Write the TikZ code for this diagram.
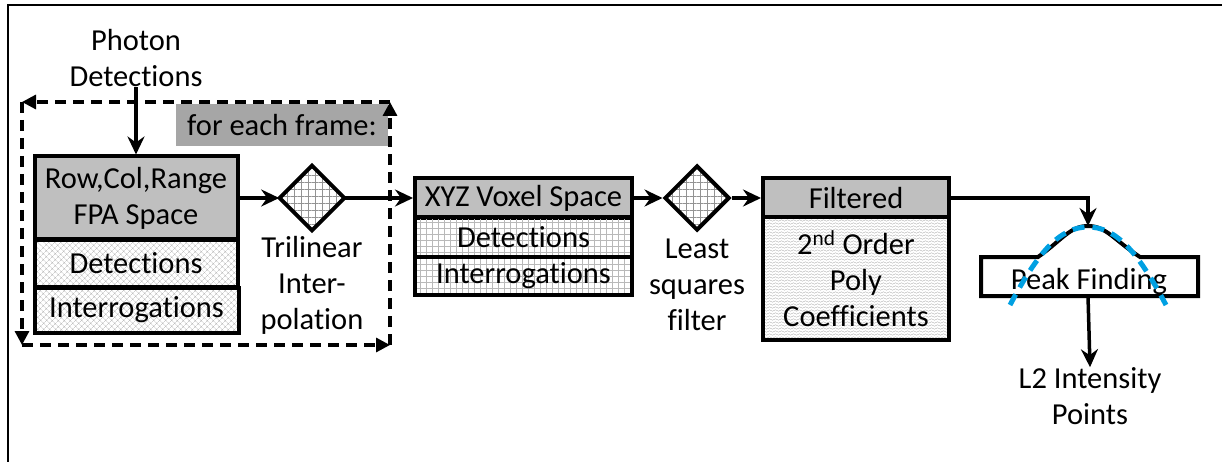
\documentclass[tikz,border=0pt]{standalone}
\usepackage{fontspec}
\setmainfont{Carlito}[Ligatures=NoCommon]
\usetikzlibrary{arrows.meta,shapes.geometric,patterns,patterns.meta}
\definecolor{hdrgray}{RGB}{191,191,191}
\definecolor{loopgray}{RGB}{166,166,166}
\definecolor{peakblue}{RGB}{0,160,226}
\pgfdeclarepatternformonly{wavy}{\pgfqpoint{-1pt}{-1pt}}{\pgfqpoint{7pt}{4pt}}{\pgfqpoint{6pt}{3pt}}{%
  \pgfsetlinewidth{0.4pt}
  \pgfpathmoveto{\pgfqpoint{0pt}{1.5pt}}
  \pgfpathcurveto{\pgfqpoint{1pt}{2.5pt}}{\pgfqpoint{2pt}{2.5pt}}{\pgfqpoint{3pt}{1.5pt}}
  \pgfpathcurveto{\pgfqpoint{4pt}{0.5pt}}{\pgfqpoint{5pt}{0.5pt}}{\pgfqpoint{6pt}{1.5pt}}
  \pgfusepathqstroke}
\begin{document}
\begin{tikzpicture}[x=1pt,y=-1pt,
    font=\fontsize{30.5}{36}\selectfont,
    box/.style={draw,line width=4pt,inner sep=0pt,align=center},
    hdr/.style={box,fill=hdrgray},
    xhatch/.style={box,pattern={Hatch[angle=45,distance=4pt,line width=0.35pt]},pattern color=gray!60},
    gridbox/.style={box,pattern={Hatch[angle=0,distance=6pt,line width=0.4pt]},pattern color=gray!55},
    wavebox/.style={box,pattern=wavy,pattern color=gray!70},
    decision/.style={diamond,draw,line width=4pt,minimum size=65pt,inner sep=0pt,aspect=1,
        pattern={Hatch[angle=0,distance=7pt,line width=0.6pt]},pattern color=gray!85},
    flow/.style={line width=3.5pt,-{Stealth[length=18pt,width=17pt,inset=6pt]}},
    loopline/.style={line width=3.2pt,dash pattern=on 11pt off 7pt,-{Triangle[length=14pt,width=14pt]}},
    txt/.style={align=center,inner sep=0pt}]
\useasboundingbox (0,0) rectangle (1222,462);
\draw[line width=2.5pt] (8,462) -- (8,5) -- (1222,5);

\node[txt] (photon) at (136,58) {Photon\\Detections};
\node[fill=loopgray,minimum width=212pt,minimum height=42pt,inner sep=0pt] (frame) at (282,125) {for each frame:};
\coordinate (lt) at (22,102);
\coordinate (rt) at (390,102);
\coordinate (lb) at (22,345);
\coordinate (rb) at (390,345);
\draw[loopline] (rt) -- (lt);
\draw[loopline] (lt) -- (lb);
\draw[loopline] (lb) -- (rb);
\draw[loopline] (rb) -- (rt);

\node[hdr,minimum width=203pt,minimum height=83pt] (fpa) at (136,198) {Row,Col,Range\\FPA Space};
\node[xhatch,minimum width=203pt,minimum height=47pt] (fpadet) at (136,263.5) {Detections};
\node[xhatch,minimum width=204pt,minimum height=45pt] (fpaint) at (136.5,310) {Interrogations};

\node[decision] (tri) at (312,198) {};
\node[txt] (trilbl) at (312,285) {Trilinear\\Inter-\\polation};

\node[hdr,minimum width=217pt,minimum height=40pt] (xyz) at (523.5,198) {XYZ Voxel Space};
\node[gridbox,minimum width=217pt,minimum height=40pt] (xyzdet) at (523.5,237) {Detections};
\node[gridbox,minimum width=217pt,minimum height=38pt] (xyzint) at (523.5,276) {Interrogations};

\node[decision] (lsq) at (697,198) {};
\node[txt] (lsqlbl) at (697,285) {Least\\squares\\filter};

\node[hdr,minimum width=186pt,minimum height=39pt] (filt) at (856,198) {Filtered};
\node[wavebox,minimum width=186pt,minimum height=123pt] (coef) at (856,278.5) {2\textsuperscript{nd} Order\\Poly\\Coefficients};

\draw[line width=4pt] (981,257) -- (1038,257) .. controls (1062,240) and (1070,226) .. (1088,226)
    .. controls (1106,226) and (1114,240) .. (1140,257) -- (1198,257) -- (1198,296) -- (981,296) -- cycle;
\node[txt] (peak) at (1089,282) {Peak Finding};
\coordinate (pktop) at (1088,226);
\coordinate (pkbot) at (1088,296);
\node[txt] (l2) at (1090,396) {L2 Intensity\\Points};

\draw[flow] (photon.south) -- (fpa.north);
\draw[flow] (fpa.east) -- (tri.west);
\draw[flow] (tri.east) -- (xyz.west);
\draw[flow] (xyz.east) -- (lsq.west);
\draw[flow] (lsq.east) -- (filt.west);
\draw[flow] (filt.east) -| (pktop);
\draw[flow] (pkbot) -- (l2.north);

\draw[peakblue,line width=5pt,dash pattern=on 12pt off 8pt] (1010,305) .. controls (1038,252) and (1060,227) .. (1088,227)
    .. controls (1116,227) and (1138,252) .. (1166,305);
\end{tikzpicture}
\end{document}
